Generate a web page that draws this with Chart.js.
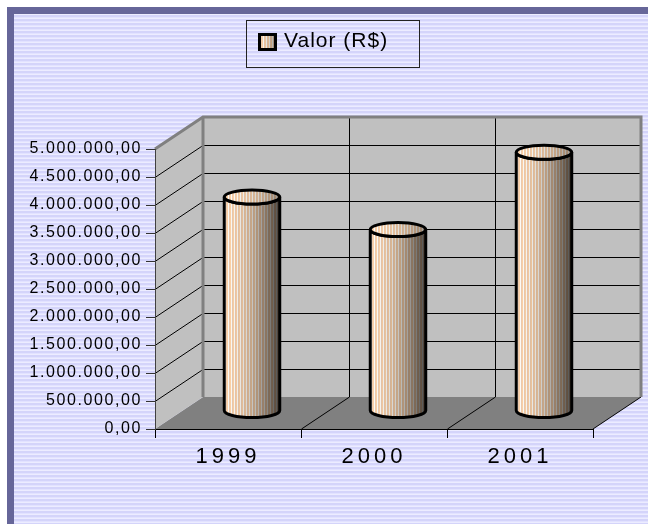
<!DOCTYPE html>
<html lang="pt-BR">
<head>
  <meta charset="UTF-8">
  <title>Valor (R$)</title>
  <script src="https://cdn.jsdelivr.net/npm/chart.js@4.4.2/dist/chart.umd.min.js"></script>
  <style>
    body {
      margin: 0;
      width: 648px;
      height: 524px;
      overflow: hidden;
      background: #fff;
      position: relative;
    }
    .moldura {
      position: absolute;
      left: 7px;
      top: 7px;
      width: 700px;
      height: 600px;
      border-left: 7px solid #666699;
      border-top: 7px solid #666699;
      background: repeating-linear-gradient(to bottom,
        #ececff 0px, #ececff 1px,
        #d4d4fa 1px, #d4d4fa 3px,
        #e2e2ff 3px, #e2e2ff 4px);
    }
    canvas {
      position: absolute;
      left: 0;
      top: 0;
    }
  </style>
</head>
<body>

  <div class="moldura"></div>
  <canvas id="grafico" width="648" height="524"></canvas>

  <script>
    // dados
    const anos = ['1999', '2000', '2001'];
    const rotuloSerie = 'Valor (R$)';
    const valores = [3820000, 3240000, 4620000];
    const yMin = 0;
    const yMax = 5000000;
    const yPasso = 500000;

    // efeito 3D
    const DX = 48, DY = 32;
    const CIL_DX = 24, CIL_DY = 18;
    const RY = 7;
    const fonte = '"Liberation Sans", Arial, sans-serif';

    function formatoBR(v) {
      const s = Math.round(v).toString().replace(/\B(?=(\d{3})+(?!\d))/g, '.');
      return s + ',00';
    }

    // listras verticais do cilindro (claro à esquerda, escuro à direita)
    function listras(ctx, w, x0, claro) {
      const c = document.createElement('canvas');
      c.width = Math.max(1, Math.round(w));
      c.height = 1;
      const g = c.getContext('2d');
      const cores = [[255, 212, 168], [255, 253, 248], [238, 204, 176]];
      for (let i = 0; i < c.width; i++) {
        const t = i / c.width;
        const k = claro ? 1 - 0.4 * Math.pow(t, 1.8) : 1 - 0.7 * Math.pow(t, 1.7);
        const col = cores[i % 3];
        g.fillStyle = `rgb(${col[0] * k | 0},${col[1] * k | 0},${col[2] * k | 0})`;
        g.fillRect(i, 0, 1, 1);
      }
      const p = ctx.createPattern(c, 'repeat');
      p.setTransform(new DOMMatrix([1, 0, 0, 1, Math.round(x0), 0]));
      return p;
    }

    function linha(ctx, pts) {
      ctx.beginPath();
      ctx.moveTo(pts[0][0], pts[0][1]);
      for (let i = 1; i < pts.length; i++) ctx.lineTo(pts[i][0], pts[i][1]);
      ctx.stroke();
    }

    function poligono(ctx, pts) {
      ctx.beginPath();
      ctx.moveTo(pts[0][0], pts[0][1]);
      for (let i = 1; i < pts.length; i++) ctx.lineTo(pts[i][0], pts[i][1]);
      ctx.closePath();
      ctx.fill();
    }

    // paredes e piso
    const paredes = {
      id: 'paredes',
      beforeDraw(chart) {
        const { ctx, chartArea: a, scales: { x, y } } = chart;
        const y0 = y.getPixelForValue(yMin);
        const y1 = y.getPixelForValue(yMax);

        // espaçamento das letras nos eixos
        [[x, '4px'], [y, '1.6px']].forEach(([s, esp]) => {
          if (s._espacado) return;
          const orig = s.drawLabels;
          s.drawLabels = function (area) {
            this.ctx.save();
            this.ctx.letterSpacing = esp;
            orig.call(this, area);
            this.ctx.restore();
          };
          s._espacado = true;
        });

        ctx.save();
        ctx.fillStyle = '#808080';
        poligono(ctx, [[a.left, y0], [a.right, y0], [a.right + DX, y0 - DY], [a.left + DX, y0 - DY]]);
        ctx.fillStyle = '#c0c0c0';
        ctx.fillRect(a.left + DX, y1 - DY, a.right - a.left, y0 - y1);
        poligono(ctx, [[a.left, y0], [a.left, y1], [a.left + DX, y1 - DY], [a.left + DX, y0 - DY]]);

        ctx.strokeStyle = '#000';
        ctx.lineWidth = 1;
        y.ticks.forEach(t => {
          if (t.value <= yMin) return;
          const yy = Math.round(y.getPixelForValue(t.value)) + 0.5;
          linha(ctx, [[a.left, yy], [a.left + DX, yy - DY], [a.right + DX, yy - DY]]);
        });
        for (let i = 1; i < anos.length; i++) {
          const bx = Math.round((x.getPixelForValue(i - 1) + x.getPixelForValue(i)) / 2) + 0.5;
          linha(ctx, [[bx, y0], [bx + DX, y0 - DY], [bx + DX, y1 - DY]]);
        }
        linha(ctx, [[a.right, y0], [a.right + DX, y0 - DY]]);

        ctx.strokeStyle = '#808080';
        ctx.lineWidth = 3;
        linha(ctx, [[a.left, y1], [a.left + DX, y1 - DY], [a.right + DX, y1 - DY], [a.right + DX, y0 - DY]]);
        linha(ctx, [[a.left + DX, y1 - DY], [a.left + DX, y0 - DY]]);
        ctx.restore();
      }
    };

    // cilindros a partir das barras
    const cilindros = {
      id: 'cilindros',
      afterDatasetsDraw(chart) {
        const { ctx } = chart;
        const meta = chart.getDatasetMeta(0);
        ctx.save();
        meta.data.forEach(bar => {
          const cx = bar.x + CIL_DX;
          const rx = bar.width / 2;
          const esq = cx - rx, dir = cx + rx;
          const topo = bar.y - CIL_DY;
          const base = bar.base - CIL_DY;

          ctx.beginPath();
          ctx.moveTo(esq, topo);
          ctx.lineTo(esq, base);
          ctx.ellipse(cx, base, rx, RY, 0, Math.PI, 0, true);
          ctx.lineTo(dir, topo);
          ctx.ellipse(cx, topo, rx, RY, 0, 0, Math.PI, false);
          ctx.closePath();
          ctx.fillStyle = listras(ctx, bar.width, esq, false);
          ctx.fill();
          ctx.lineWidth = 3;
          ctx.lineJoin = 'round';
          ctx.strokeStyle = '#000';
          ctx.stroke();

          ctx.beginPath();
          ctx.ellipse(cx, topo, rx, RY, 0, 0, Math.PI * 2);
          ctx.fillStyle = listras(ctx, bar.width, esq, true);
          ctx.fill();
          ctx.stroke();
        });
        ctx.restore();
      }
    };

    // legenda com moldura
    const legenda = {
      id: 'legenda',
      afterDraw(chart) {
        const { ctx } = chart;
        ctx.save();
        ctx.strokeStyle = '#222';
        ctx.lineWidth = 1;
        ctx.strokeRect(246.5, 20.5, 173, 47);

        ctx.fillStyle = listras(ctx, 16, 259, true);
        ctx.fillRect(259, 34, 17, 16);
        ctx.lineWidth = 3;
        ctx.strokeStyle = '#000';
        ctx.strokeRect(259.5, 34.5, 16, 15);

        ctx.fillStyle = '#000';
        ctx.font = '21px ' + fonte;
        ctx.letterSpacing = '1px';
        ctx.textBaseline = 'middle';
        ctx.textAlign = 'left';
        ctx.fillText(chart.data.datasets[0].label, 284, 41);
        ctx.restore();
      }
    };

    const ctx = document.getElementById('grafico').getContext('2d');
    new Chart(ctx, {
      type: 'bar',
      data: {
        labels: anos,
        datasets: [{
          label: rotuloSerie,
          data: valores,
          backgroundColor: 'rgba(0,0,0,0)',
          borderWidth: 0,
          barPercentage: 0.38,
          categoryPercentage: 1
        }]
      },
      options: {
        responsive: false,
        animation: false,
        devicePixelRatio: 1,
        layout: { padding: { left: 14, top: 149, right: 55, bottom: 0 } },
        plugins: {
          legend: { display: false },
          tooltip: { enabled: false }
        },
        scales: {
          x: {
            offset: true,
            afterFit: s => { s.height = 95; },
            grid: {
              offset: true,
              drawOnChartArea: false,
              tickLength: 9,
              tickColor: '#000'
            },
            border: { color: '#000', width: 1 },
            ticks: {
              color: '#000',
              padding: 6,
              font: { family: fonte, size: 22 }
            }
          },
          y: {
            min: yMin,
            max: yMax,
            afterFit: s => { s.width = 141; },
            grid: {
              drawOnChartArea: false,
              tickLength: 9,
              tickColor: '#333'
            },
            border: { color: '#404040', width: 1 },
            ticks: {
              stepSize: yPasso,
              color: '#000',
              padding: 4,
              font: { family: fonte, size: 16 },
              callback: v => formatoBR(v)
            }
          }
        }
      },
      plugins: [paredes, cilindros, legenda]
    });
  </script>

</body>
</html>
